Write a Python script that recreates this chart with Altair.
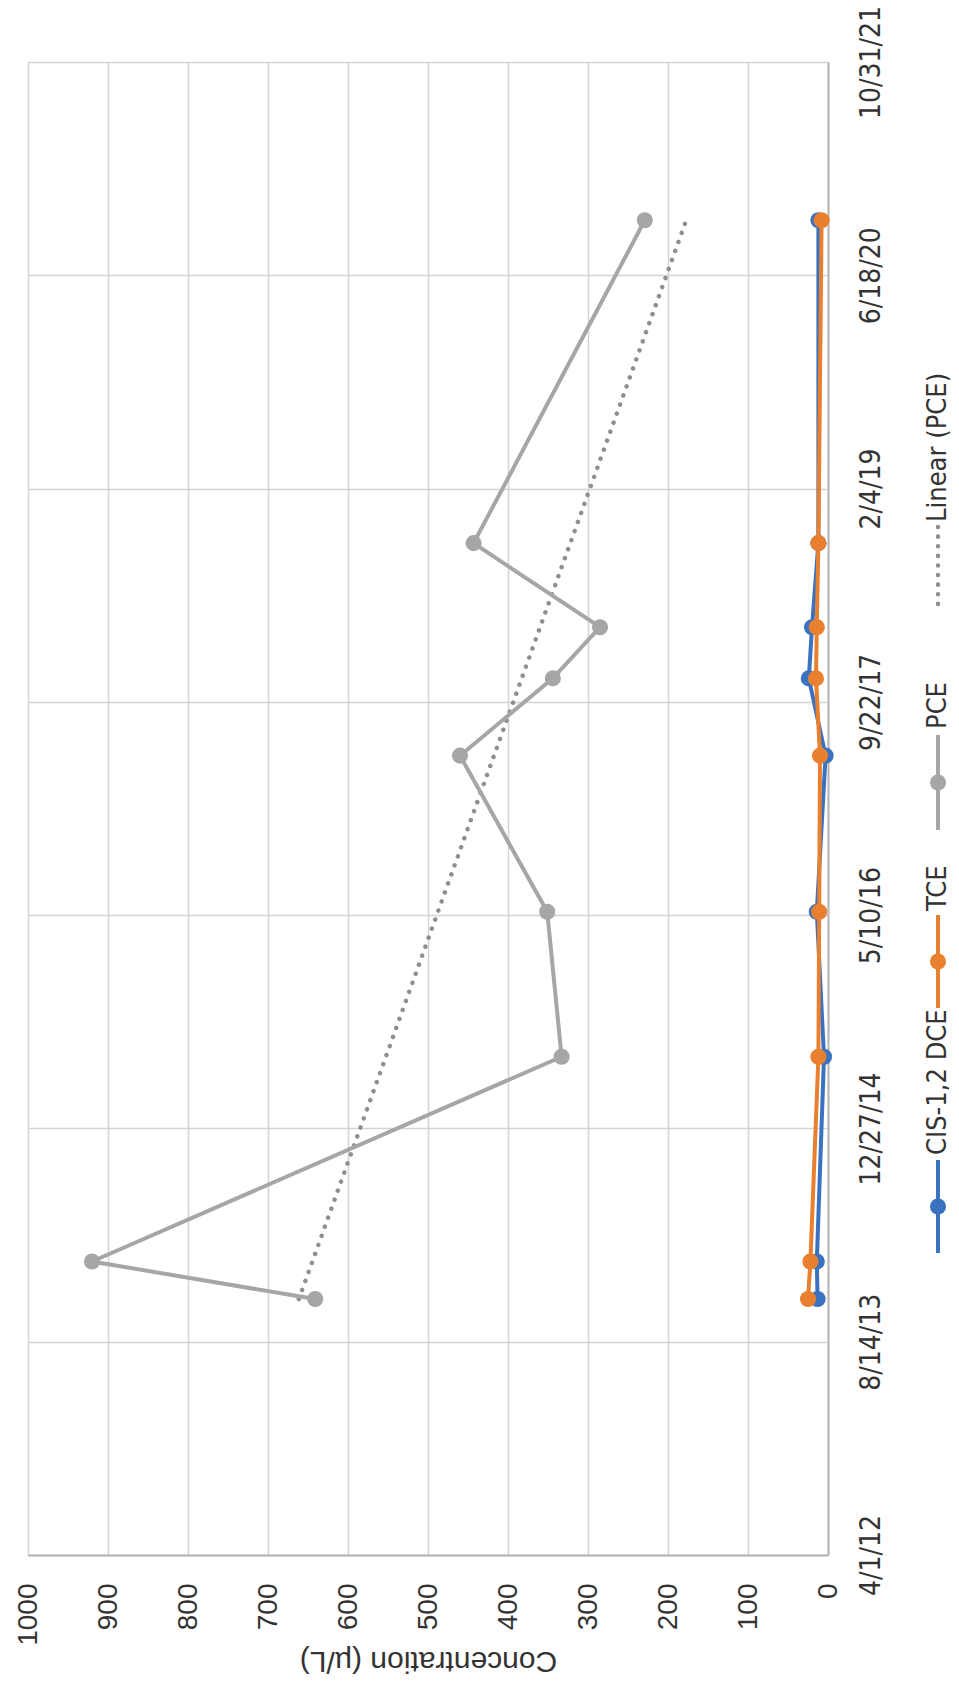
import altair as alt
import pandas as pd

# ---------------- data ----------------
DATES = ["2013-11-22", "2014-02-18", "2015-06-13", "2016-05-18", "2017-05-19",
         "2017-11-16", "2018-03-16", "2018-09-29", "2020-10-25"]
CIS = [13, 14, 5, 14, 3, 24, 20, 12, 12]
TCE = [25, 22, 12, 11, 10, 15, 14, 12, 8]
PCE = [641, 920, 333, 351, 460, 344, 285, 443, 229]

SERIES = ["CIS-1,2 DCE", "TCE", "PCE"]
COLORS = ["#3b72bf", "#e9802f", "#a6a6a6"]
TREND_NAME = "Linear (PCE)"
TREND_COLOR = "#8f8f8f"

DATE_TICKS = ["2012-04-01", "2013-08-14", "2014-12-27", "2016-05-10",
              "2017-09-22", "2019-02-04", "2020-06-18", "2021-10-31"]
CONC_TICKS = [0, 100, 200, 300, 400, 500, 600, 700, 800, 900, 1000]
X_TITLE = "Concentration (µ/L)"


def ms(s):
    return int(pd.Timestamp(s, tz="UTC").timestamp() * 1000)


rows = []
for name, vals in zip(SERIES, [CIS, TCE, PCE]):
    for d, v in zip(DATES, vals):
        rows.append({"t": ms(d), "value": v, "series": name})
df = pd.DataFrame(rows)

# ---------------- styling ----------------
W, H = 800, 1493
NUM_FONT = "Liberation Sans"
LEG_FONT = "Liberation Sans Narrow, DejaVu Sans Condensed, Liberation Sans"
TXT = "#333333"
GRID = "#d4d4d4"
DOTS = [0.1, 9.5]

x_enc = alt.X(
    "value:Q",
    scale=alt.Scale(domain=[0, 1000], reverse=True, nice=False, zero=True),
    axis=alt.Axis(
        orient="bottom", values=CONC_TICKS, format="d", labelAngle=270, labelAlign="right",
        labelBaseline="middle", labelPadding=28, ticks=False, tickSize=0,
        labelFlush=False, labelOverlap=False, labelBound=False,
        grid=True, gridColor=GRID, gridWidth=1.5,
        domainColor="#b5b5b5", domainWidth=2,
        labelFont=NUM_FONT, labelFontSize=28, labelColor=TXT,
        title=X_TITLE, titleAngle=180, titleAlign="center", titleBaseline="bottom",
        titlePadding=0, titleFont=NUM_FONT, titleFontSize=30,
        titleFontWeight="normal", titleColor=TXT,
    ),
)

y_enc = alt.Y(
    "t:T",
    scale=alt.Scale(type="utc", domain=[ms(DATE_TICKS[0]), ms(DATE_TICKS[-1])], nice=False),
    axis=alt.Axis(
        orient="right", values=[ms(d) for d in DATE_TICKS],
        labelExpr="utcFormat(datum.value, '%-m/%-d/%y')",
        labelAngle=270, labelAlign="center", labelBaseline="top", labelPadding=29,
        ticks=False, tickSize=0, labelOverlap=False, labelFlush=False, labelBound=False,
        grid=True, gridColor=GRID, gridWidth=1.5,
        domainColor="#b5b5b5", domainWidth=2,
        labelFont=LEG_FONT, labelFontSize=28, labelColor=TXT, title=None,
    ),
)

base = alt.Chart(df)
layers = []

# trend line (least-squares fit of PCE vs date, computed by Vega-Lite)
layers.append(
    base.transform_filter(alt.datum.series == "PCE")
    .transform_regression("t", "value")
    .mark_line(strokeDash=DOTS, strokeWidth=4.5, strokeCap="round", color=TREND_COLOR)
    .encode(x=x_enc, y=y_enc, order=alt.Order("t:Q"))
)

for name, col in zip(SERIES, COLORS):
    sub = base.transform_filter(alt.datum.series == name)
    layers.append(
        sub.mark_line(strokeWidth=4, color=col).encode(x=x_enc, y=y_enc, order=alt.Order("t:Q"))
    )
    layers.append(
        sub.mark_point(filled=True, size=260, opacity=1, color=col).encode(x=x_enc, y=y_enc)
    )

# ---------------- manual (rotated) legend ----------------
LEG_X = 910
# (symbol start, symbol end, text start) measured along the vertical, relative to plot top
LEG_POS = {
    "CIS-1,2 DCE": (1098, 1191, 1093),
    "TCE": (853, 946, 849),
    "PCE": (673, 768, 667),
    TREND_NAME: (465, 548, 460),
}
for name, col in zip(SERIES + [TREND_NAME], COLORS + [TREND_COLOR]):
    a, b, ts = LEG_POS[name]
    one = pd.DataFrame({"label": [name]})
    if name == TREND_NAME:
        layers.append(
            alt.Chart(one).mark_rule(strokeDash=DOTS, strokeWidth=4.5, strokeCap="round", color=col)
            .encode(x=alt.value(LEG_X), y=alt.value(a), y2=alt.value(b))
        )
    else:
        layers.append(
            alt.Chart(one).mark_rule(strokeWidth=4, color=col)
            .encode(x=alt.value(LEG_X), y=alt.value(a), y2=alt.value(b))
        )
        layers.append(
            alt.Chart(one).mark_point(filled=True, size=260, opacity=1, color=col)
            .encode(x=alt.value(LEG_X), y=alt.value((a + b) / 2))
        )
    layers.append(
        alt.Chart(one).mark_text(angle=270, align="left", baseline="middle",
                                 font=LEG_FONT, fontSize=27, color=TXT)
        .encode(x=alt.value(LEG_X), y=alt.value(ts), text="label:N")
    )

chart = (
    alt.layer(*layers)
    .properties(
        width=W, height=H,
        padding={"left": 28, "top": 62, "right": 131, "bottom": 145},
        autosize=alt.AutoSizeParams(type="none"),
        background="white",
    )
    .configure_view(strokeWidth=0)
)

chart.save("out.html", embed_options={"renderer": "svg", "actions": False})
